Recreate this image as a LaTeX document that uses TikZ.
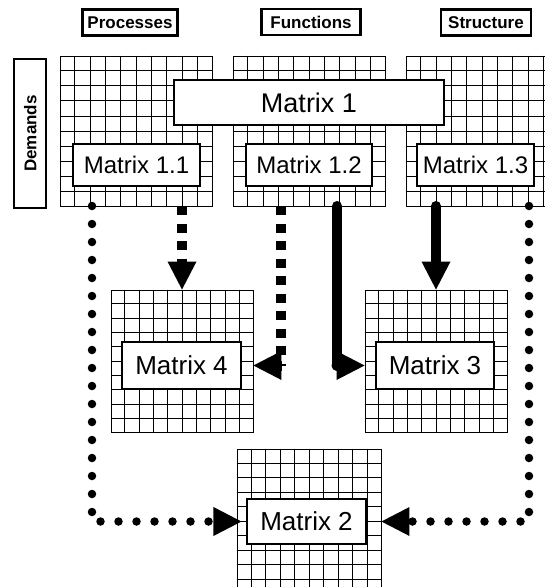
\documentclass[tikz,border=0pt]{standalone}
\usepackage{fontspec}
\setmainfont{Liberation Sans}
\usetikzlibrary{calc,arrows.meta}
\tikzset{
  gline/.style={line width=0.7pt},
  gridbox/.style={draw, line width=0.9pt, inner sep=0pt, minimum width=152pt, minimum height=150pt},
  smallgrid/.style={draw, line width=0.9pt, inner sep=0pt, minimum width=142pt, minimum height=142pt},
  hdr/.style={draw, line width=2.1pt, inner sep=0pt, font=\bfseries\fontsize{17}{20}\selectfont},
  mbox/.style={draw, fill=white, line width=1.1pt, inner sep=0pt},
  bigtip/.style={-{Triangle[length=28pt,width=29pt,line width=0pt]}},
  dotline/.style={line width=8.5pt, line cap=round, dash pattern=on 0pt off 18pt, bigtip},
  dashline/.style={line width=10pt, dash pattern=on 9pt off 8.5pt, bigtip},
  solidline/.style={line width=10pt, line cap=round, bigtip},
}
\newcommand{\gridlinesof}[1]{%
  \foreach \k [evaluate=\k as \f using \k/10] in {1,...,9}{
    \draw[gline] ($(#1.north west)!\f!(#1.north east)$) -- ($(#1.south west)!\f!(#1.south east)$);
    \draw[gline] ($(#1.north west)!\f!(#1.south west)$) -- ($(#1.north east)!\f!(#1.south east)$);
  }}
\begin{document}
\begin{tikzpicture}[x=1pt,y=-1pt]
\useasboundingbox (0,0) rectangle (545,587);
\clip (0,0) rectangle (545,587);
% grids
\node[gridbox] (gp) at (136,131) {};
\node[gridbox] (gf) at (309,131) {};
\node[gridbox] (gs) at (482,131) {};
\node[smallgrid] (g4) at (182,361) {};
\node[smallgrid] (g3) at (436,361) {};
\node[smallgrid, minimum width=144pt, minimum height=144pt] (g2) at (309,521) {};
\gridlinesof{gp}\gridlinesof{gf}\gridlinesof{gs}
\gridlinesof{g4}\gridlinesof{g3}\gridlinesof{g2}
% headers
\node[hdr, minimum width=95pt, minimum height=26pt] (hp) at (130,22.5) {Processes};
\node[hdr, minimum width=99pt, minimum height=25.5pt] (hf) at (311,22) {Functions};
\node[hdr, minimum width=90pt, minimum height=26pt] (hs) at (486,22.5) {Structure};
\node[hdr, rotate=90, minimum width=149pt, minimum height=32pt] (hd) at (30.3,133.5) {Demands};
% matrix boxes
\node[mbox, minimum width=270pt, minimum height=45pt, font=\fontsize{27}{30}\selectfont] (m1) at (309,102.5) {Matrix 1};
\node[mbox, minimum width=127pt, minimum height=42pt, font=\fontsize{24}{28}\selectfont] (m11) at (136.5,165) {Matrix 1.1};
\node[mbox, minimum width=126pt, minimum height=42pt, font=\fontsize{24}{28}\selectfont] (m12) at (309,165) {Matrix 1.2};
\node[mbox, minimum width=117pt, minimum height=42pt, font=\fontsize{24}{28}\selectfont] (m13) at (475.5,165) {Matrix 1.3};
\node[mbox, minimum width=119pt, minimum height=47pt, font=\fontsize{26}{30}\selectfont] (m4) at (181.5,365.5) {Matrix 4};
\node[mbox, minimum width=118pt, minimum height=47pt, font=\fontsize{26}{30}\selectfont] (m3) at (435,365.5) {Matrix 3};
\node[mbox, minimum width=119pt, minimum height=45pt, font=\fontsize{26}{30}\selectfont] (m2) at (306.5,521.5) {Matrix 2};
% connector starts
\coordinate (s1) at (92,206);
\coordinate (s2) at (182,206);
\coordinate (s3) at (281,206);
\coordinate (s4) at (337,206);
\coordinate (s5) at (436,206);
\coordinate (s6) at (529,206);
% connectors
\draw[dotline] (s1) |- ([xshift=-5pt]m2.west);
\draw[dashline] (s2) -- (g4.north);
\draw[dashline] (s3) |- (g4.east |- m4);
\draw[solidline] (s4) |- (g3.west |- m3);
\draw[solidline] (s5) -- (g3.north);
\draw[dotline] (s6) |- (g2.east |- m2);
\end{tikzpicture}
\end{document}
